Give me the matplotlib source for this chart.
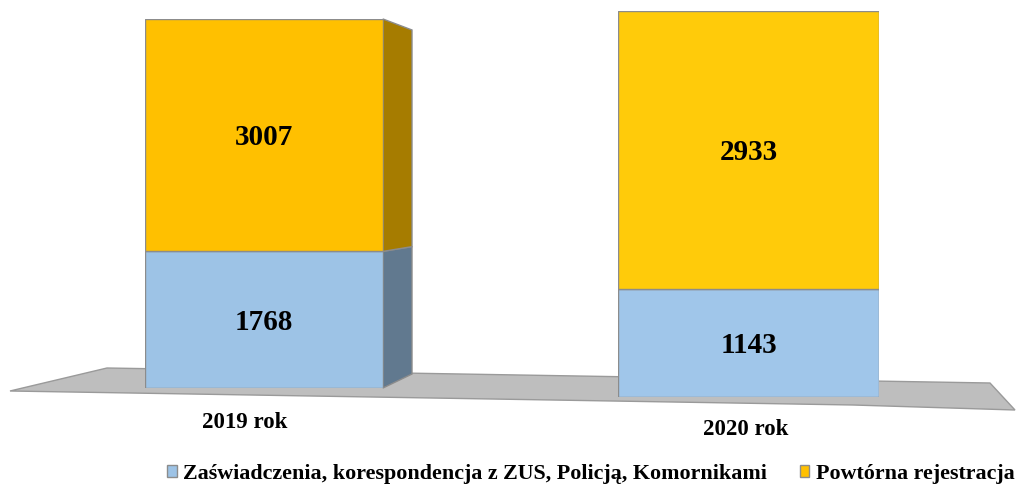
import matplotlib
matplotlib.use("Agg")
import matplotlib.pyplot as plt
from matplotlib.patches import Polygon

# ---- data ----
categories = ["2019 rok", "2020 rok"]
series_names = ["Zaświadczenia, korespondencja z ZUS, Policją, Komornikami",
                "Powtórna rejestracja"]
blue_vals = [1768, 1143]
yellow_vals = [3007, 2933]

W, H = 1022, 484
fig = plt.figure(figsize=(W / 100, H / 100), dpi=100)
fig.patch.set_facecolor("white")
serif = ["Liberation Serif", "DejaVu Serif"]

# background axes for the floor (pixel coordinates)
bg = fig.add_axes([0, 0, 1, 1])
bg.set_xlim(0, W)
bg.set_ylim(H, 0)
bg.axis("off")
floor = Polygon([(10, 391), (107, 368), (990, 383), (1015, 410), (853, 405)],
                closed=True, facecolor="#BEBEBE", edgecolor="#9A9A9A", lw=1)
bg.add_patch(floor)

blue_front = ["#9DC3E6", "#A0C6EA"]
yellow_front = ["#FFC000", "#FFCB0A"]
blue_side = "#61798F"
yellow_side = "#A67C00"
edge = "#8C8C8C"

# front-face pixel boxes (left, right, top, bottom) for each bar
boxes = [(145, 383, 19, 388), (618, 879, 10.5, 397)]
cat_offsets = [(-19, -40), (-3, -38)]
side = [True, False]

handles = None
for i in range(len(categories)):
    l, r, t, b = boxes[i]
    ax = fig.add_axes([l / W, 1 - b / H, (r - l) / W, (b - t) / H])
    total = blue_vals[i] + yellow_vals[i]
    ax.set_xlim(-0.5, 0.5)
    ax.set_ylim(0, total)
    ax.axis("off")
    b1 = ax.bar([0], [blue_vals[i]], width=1.0, color=blue_front[i],
                edgecolor=edge, lw=1, zorder=3)
    b2 = ax.bar([0], [yellow_vals[i]], bottom=[blue_vals[i]], width=1.0,
                color=yellow_front[i], edgecolor=edge, lw=1, zorder=3)
    if handles is None:
        handles = [b1, b2]

    ax.annotate(categories[i], xy=(0, 0), xycoords="data",
                xytext=cat_offsets[i], textcoords="offset pixels",
                ha="center", va="baseline", fontsize=16.5, fontweight="bold",
                family=serif, annotation_clip=False)

    for y, v in [(blue_vals[i] / 2, blue_vals[i]),
                 (blue_vals[i] + yellow_vals[i] / 2, yellow_vals[i])]:
        ax.annotate(f"{v}", xy=(0, y), xycoords="data", xytext=(0, -10),
                    textcoords="offset pixels", ha="center", va="baseline",
                    fontsize=21, fontweight="bold", family=serif, zorder=5)

    if side[i]:
        px = total / (b - t)          # data units per pixel (vertical)
        depth = 29 / (r - l)          # side depth in data x units
        bot_r = 14 * px
        top_r = total - 11 * px

        def ymap(y):
            return bot_r + (y / total) * (top_r - bot_r)

        segs = [(0, blue_vals[i], blue_side),
                (blue_vals[i], total, yellow_side)]
        for y0, y1, c in segs:
            poly = Polygon([(0.5, y0), (0.5 + depth, ymap(y0)),
                            (0.5 + depth, ymap(y1)), (0.5, y1)],
                           closed=True, facecolor=c, edgecolor=edge, lw=1,
                           clip_on=False, zorder=2)
            ax.add_patch(poly)

leg = fig.legend([handles[0], handles[1]], series_names, loc="center",
                 bbox_to_anchor=(591 / W, 1 - 474 / H), ncol=2, frameon=False,
                 handlelength=0.42, handleheight=0.5, handletextpad=0.3,
                 columnspacing=1.5, borderpad=0.1, borderaxespad=0.1,
                 prop={"family": serif, "weight": "bold", "size": 15.8})

fig.savefig("out.png", dpi=100, facecolor="white")
